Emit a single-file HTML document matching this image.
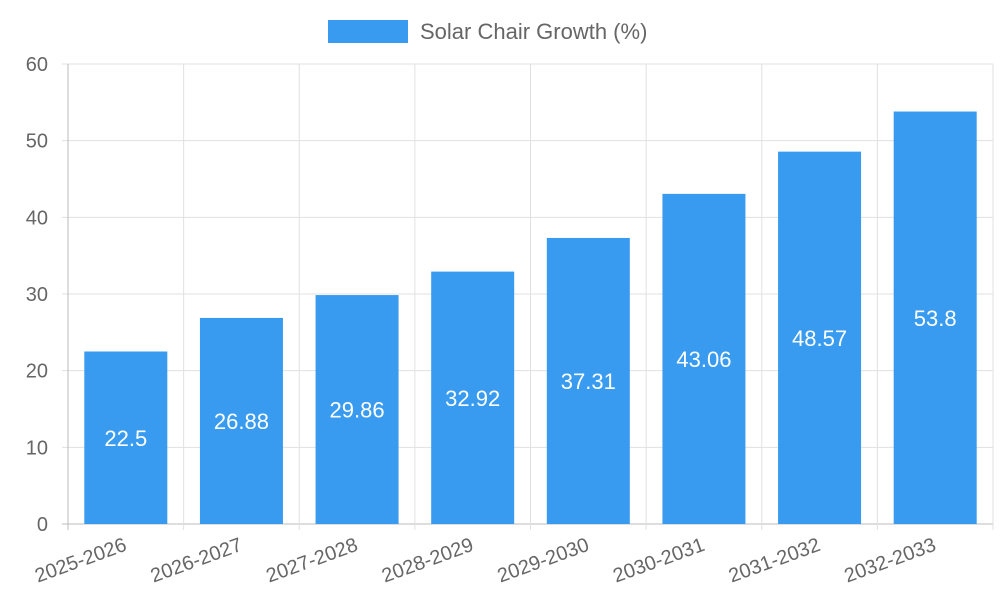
<!DOCTYPE html>
<html><head><meta charset="utf-8"><style>body{margin:0;background:#fff}svg{display:block;font-family:"Liberation Sans",sans-serif}</style></head>
<body>
<svg id="c" width="1000" height="600"></svg>
<script>
const categories=["2025-2026","2026-2027","2027-2028","2028-2029","2029-2030","2030-2031","2031-2032","2032-2033"];
const values=[22.5,26.88,29.86,32.92,37.31,43.06,48.57,53.8];
const yTicks=[0,10,20,30,40,50,60];
const NS="http://www.w3.org/2000/svg",svg=document.getElementById('c');
const L=68,R=993,T=64,B=524,yMax=60;
const y=v=>B-(v/yMax)*(B-T);
const bw=(R-L)/categories.length;
const x=i=>L+bw*(i+0.5);
function el(t,a,p){const e=document.createElementNS(NS,t);for(const k in a)e.setAttribute(k,a[k]);(p||svg).appendChild(e);return e;}
const grid=el('g',{});


yTicks.forEach(t=>{
  el('line',{x1:L-6,x2:R,y1:y(t),y2:y(t),stroke:t===0?'#bbb':'#e0e0e0','stroke-width':1},grid);
  const tx=el('text',{x:L-20,y:y(t)+7,'text-anchor':'end','font-size':20,fill:'#666'});
  
  
  tx.textContent=t;
});
for(let i=0;i<=categories.length;i++){
  const gx=L+bw*i;
  el('line',{x1:gx,x2:gx,y1:T,y2:B+6,stroke:i===0?'#bbb':'#e0e0e0','stroke-width':1},grid);
}
categories.forEach((c,i)=>{
  const bx=x(i)-41.5;
  const r=el('rect',{x:bx,y:y(values[i]),width:83,height:B-y(values[i]),fill:'#389bf0'});
  
  
  const v=el('text',{x:x(i),y:(y(values[i])+B)/2+8,'text-anchor':'middle','font-size':22,fill:'#fff'});
  
  
  v.textContent=values[i];
  const lx=x(i)+2,ly=B+26;
  const t=el('text',{x:lx,y:ly,'text-anchor':'end','font-size':20,fill:'#666',transform:`rotate(-20 ${lx} ${ly})`});
  
  
  t.textContent=c;
});
const lg=el('g',{});


el('rect',{x:328,y:20,width:80,height:23,fill:'#389bf0'},lg);
const lt=el('text',{x:420,y:39,'font-size':22,fill:'#666'},lg);
lt.textContent='Solar Chair Growth (%)';
</script>
</body></html>
